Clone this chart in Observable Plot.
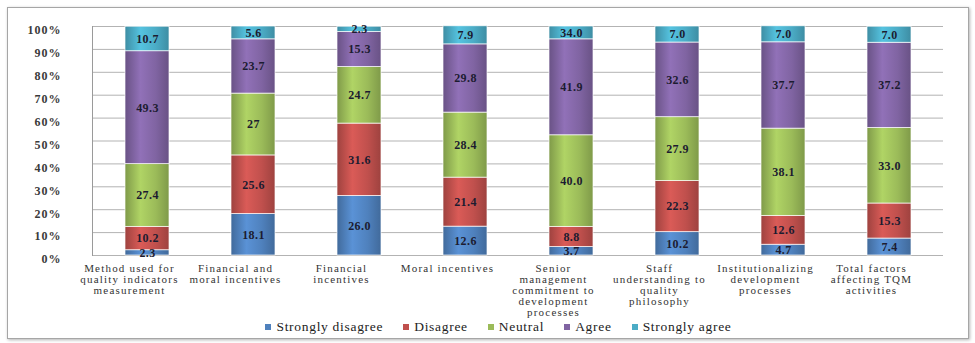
<!DOCTYPE html>
<html><head><meta charset="utf-8">
<script src="https://cdn.jsdelivr.net/npm/d3@7"></script>
<script src="https://cdn.jsdelivr.net/npm/@observablehq/plot@0.6"></script>
<style>
body{margin:0;background:#fff;}
#wrap{position:relative;width:975px;height:343px;overflow:hidden;font-family:"Liberation Serif","Times New Roman",serif;}
#border{position:absolute;left:7px;top:7px;width:960px;height:330px;border:1px solid #a6a6a6;box-shadow:1px 1px 3px rgba(0,0,0,.3);}
#chart{position:absolute;left:0;top:0;}
#legend{position:absolute;left:11px;top:319px;width:975px;display:flex;justify-content:center;align-items:center;font-size:13.5px;letter-spacing:0.7px;color:#222;}
#legend .item{display:flex;align-items:center;margin:0 10px;}
#legend .sw{width:6px;height:6px;margin-right:5px;}
#chart g[aria-label="x-axis tick label"] text{letter-spacing:1.2px;}
#chart g[aria-label="y-axis tick label"] text{letter-spacing:1px;}
#chart g[aria-label="text"] text{letter-spacing:0.4px;}
</style>
</head><body>
<div id="wrap"><div id="border"></div><div id="chart"></div><div id="legend"></div></div>
<script>
const categories = [
  "Method used for quality indicators measurement",
  "Financial and moral incentives",
  "Financial incentives",
  "Moral incentives",
  "Senior management commitment to development processes",
  "Staff understanding to quality philosophy",
  "Institutionalizing development processes",
  "Total factors affecting TQM activities"
];
const categoryLines = [
  "Method used for\nquality indicators\nmeasurement",
  "Financial and\nmoral incentives",
  "Financial\nincentives",
  "Moral incentives",
  "Senior\nmanagement\ncommitment to\ndevelopment\nprocesses",
  "Staff\nunderstanding to\nquality\nphilosophy",
  "Institutionalizing\ndevelopment\nprocesses",
  "Total factors\naffecting TQM\nactivities"
];
const series = ["Strongly disagree", "Disagree", "Neutral", "Agree", "Strongly agree"];
const stronglyDisagree = [2.3, 18.1, 26.0, 12.6, 3.7, 10.2, 4.7, 7.4];
const disagree         = [10.2, 25.6, 31.6, 21.4, 8.8, 22.3, 12.6, 15.3];
const neutral          = [27.4, 27, 24.7, 28.4, 40.0, 27.9, 38.1, 33.0];
const agree            = [49.3, 23.7, 15.3, 29.8, 41.9, 32.6, 37.7, 37.2];
const stronglyAgree    = [10.7, 5.6, 2.3, 7.9, 5.6, 7.0, 7.0, 7.0];
// labels as printed on the original chart where they differ from one-decimal formatting
const printedLabels = {
  "Financial and moral incentives|Neutral": "27",
  "Senior management commitment to development processes|Strongly agree": "34.0"
};
const yTicks = [0, 10, 20, 30, 40, 50, 60, 70, 80, 90, 100];
const colors = ["#4F81BD", "#C0504D", "#9BBB59", "#8064A2", "#4BACC6"];

const seriesValues = [stronglyDisagree, disagree, neutral, agree, stronglyAgree];
const data = [];
categories.forEach((c, i) => series.forEach((s, j) => {
  const v = seriesValues[j][i];
  data.push({category: c, series: s, value: v,
    label: printedLabels[c + "|" + s] ?? v.toFixed(1)});
}));
const wrapped = Object.fromEntries(categories.map((c, i) => [c, categoryLines[i]]));

const chart = Plot.plot({
  width: 975, height: 318,
  marginLeft: 92, marginRight: 32, marginTop: 26, marginBottom: 63,
  style: {fontFamily: "'Liberation Serif', 'Times New Roman', serif", background: "transparent", overflow: "visible"},
  x: {domain: categories, paddingInner: 0.585, paddingOuter: 0.2925, label: null},
  y: {domain: [0, 100], label: null},
  color: {domain: series, range: series.map((s, i) => `url(#cyl${i})`)},
  marks: [
    Plot.gridY(yTicks, {stroke: "#b3b3b3", strokeOpacity: 1}),
    Plot.frame({anchor: "left", stroke: "#9a9a9a"}),
    Plot.axisY({ticks: yTicks, tickFormat: d => d + "%", tickSize: 0, tickPadding: 31, dy: 4,
      fontSize: 12, fontWeight: "bold", fill: "#3a3a3a", label: null}),
    Plot.axisX({tickFormat: c => wrapped[c], tickSize: 0, tickPadding: 9, dx: -18,
      fontSize: 11, lineHeight: 1.0, fill: "#333", label: null}),
    Plot.barY(data, Plot.stackY({x: "category", y: "value", z: "series", fill: "series",
      order: series, stroke: "#ffffff", strokeWidth: 0.8, strokeOpacity: 0.85})),
    Plot.text(data, Plot.stackY({x: "category", y: "value", z: "series", order: series,
      text: "label", fontSize: 12, fontWeight: "bold", fill: "#1c1c30"}))
  ]
});

// cylinder-like horizontal gradients for each series colour
const defs = colors.map((c, i) => {
  const dark = d3.color(c).darker(0.55).formatHex();
  const light = d3.color(c).brighter(0.35).formatHex();
  return `<linearGradient id="cyl${i}" x1="0" x2="1" y1="0" y2="0">
    <stop offset="0" stop-color="${dark}"/><stop offset="0.35" stop-color="${light}"/>
    <stop offset="0.7" stop-color="${c}"/><stop offset="1" stop-color="${dark}"/></linearGradient>`;
}).join("");
chart.insertAdjacentHTML("afterbegin", `<defs>${defs}</defs>`);
document.getElementById("chart").appendChild(chart);

const legend = document.getElementById("legend");
series.forEach((s, i) => {
  const item = document.createElement("div");
  item.className = "item";
  item.innerHTML = `<span class="sw" style="background:${colors[i]}"></span><span>${s}</span>`;
  legend.appendChild(item);
});
</script>
</body></html>
